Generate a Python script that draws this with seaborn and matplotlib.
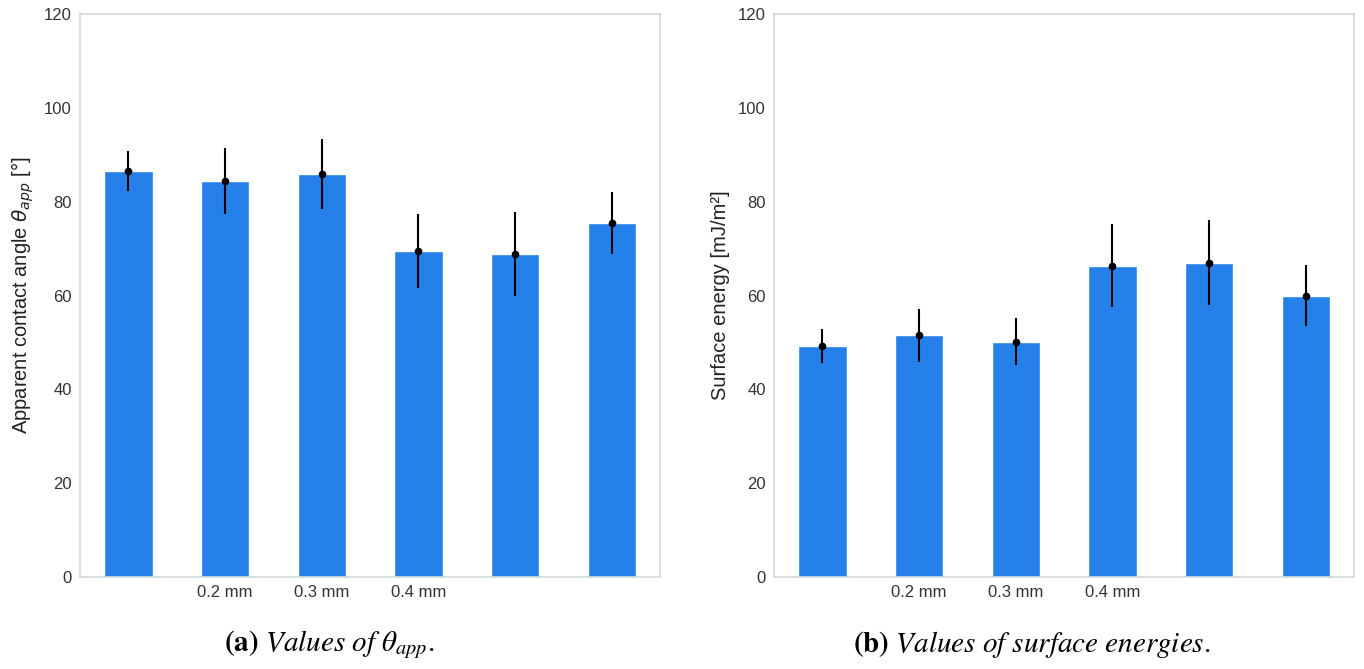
import numpy as np
import pandas as pd
import matplotlib
matplotlib.use("Agg")
import matplotlib.pyplot as plt
import seaborn as sns

# ── Data ──────────────────────────────────────────────────────────────────────
SAMPLES     = ["S1", "S2", "S3", "S4", "S5", "S6"]
TICK_LABELS = ["", "0.2 mm", "0.3 mm", "0.4 mm", "", ""]

THETA_MEAN = [86.6, 84.4, 85.9, 69.5, 68.9, 75.5]
THETA_ERR  = [4.3, 7.0, 7.4, 7.8, 8.9, 6.6]

ENERGY_MEAN = [49.3, 51.5, 50.2, 66.4, 67.0, 60.0]
ENERGY_ERR  = [3.6, 5.7, 5.1, 8.8, 9.1, 6.5]

BAR_COLOR   = "#2581e9"
SPINE_COLOR = "#cfd9dc"


def draw_panel(ax, means, errs, ylabel):
    df = pd.DataFrame({"sample": SAMPLES, "value": means})
    sns.barplot(data=df, x="sample", y="value", ax=ax, color=BAR_COLOR,
                saturation=1, width=0.5, errorbar=None)
    xs = [p.get_x() + p.get_width() / 2 for p in ax.patches]
    ax.errorbar(xs, means, yerr=errs, fmt="o", color="black",
                markersize=4.5, elinewidth=1.5, capsize=0)
    ax.set_ylim(0, 120)
    ax.set_xlim(-0.5, len(SAMPLES) - 0.5)
    ax.set_xticks(range(len(SAMPLES)))
    ax.set_xticklabels(TICK_LABELS)
    ax.set_xlabel("")
    ax.set_ylabel(ylabel, fontsize=14.5, color="#222222", labelpad=6)
    ax.tick_params(axis="both", length=0, labelsize=12, colors="#333333", pad=6)
    for s in ax.spines.values():
        s.set_visible(True)
        s.set_color(SPINE_COLOR)
        s.set_linewidth(1.2)


def main():
    sns.set_style("white")
    plt.rcParams["font.family"] = ["Liberation Sans", "DejaVu Sans"]

    fig = plt.figure(figsize=(13.64, 6.69), dpi=100)
    ax1 = fig.add_axes([0.0587, 0.1375, 0.4252, 0.8415])
    ax2 = fig.add_axes([0.5675, 0.1375, 0.4252, 0.8415])

    draw_panel(ax1, THETA_MEAN, THETA_ERR, r"Apparent contact angle $\theta_{app}$ [°]")
    draw_panel(ax2, ENERGY_MEAN, ENERGY_ERR, "Surface energy [mJ/m²]")

    cap_kw = dict(fontsize=21, family="Liberation Serif", math_fontfamily="stix",
                  ha="center", va="center", color="black")
    fig.text(0.2413, 0.036, r"$\mathbf{(a)}$ $\it{Values\ of}\ \theta_{app}.$", **cap_kw)
    fig.text(0.7563, 0.036, r"$\mathbf{(b)}$ $\it{Values\ of\ surface\ energies.}$", **cap_kw)

    fig.savefig("out.png", dpi=100)
    plt.close(fig)


if __name__ == "__main__":
    main()
